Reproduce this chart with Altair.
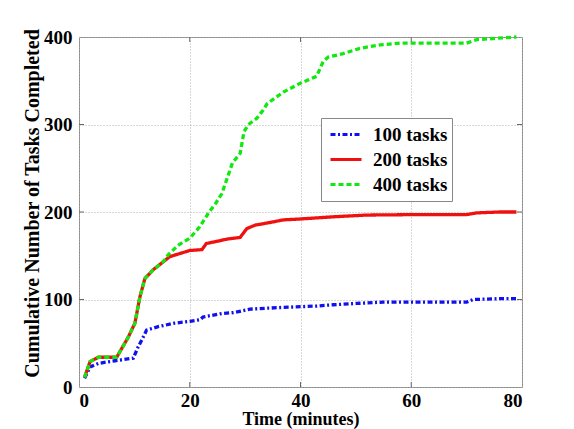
import altair as alt
import pandas as pd

series_names = ["100 tasks", "200 tasks", "400 tasks"]

t_100 = [1, 2, 3.5, 6.5, 9.8, 10.7, 11.6, 12.2, 14.3, 17.3, 20, 21.9, 22.4, 25.8, 27.9,
         30.9, 36.9, 42.9, 45.9, 50.1, 54.9, 70, 71.2, 76, 79]
v_100 = [10, 23, 27, 30, 33, 46, 57, 65, 69, 73, 75, 77, 80, 84, 85,
         89, 91, 92.5, 94, 95.5, 97, 97, 100, 101, 101]

t_200 = [1, 2, 3.5, 6.8, 8.9, 10.1, 11, 11.9, 13.4, 15.2, 16.4, 20, 22.2, 23, 25.3,
         26.7, 29.1, 30.3, 31.8, 34.5, 36.9, 39.9, 45.9, 51.9, 60.4, 70, 71.8, 76, 79]
v_200 = [11, 29, 34, 34, 57, 73, 103, 124, 134, 143, 149, 156, 157, 164, 167,
         169, 171, 181, 185, 188, 191, 192, 194.5, 196.5, 197, 197, 199, 200, 200]

t_400 = [1, 2, 3.5, 6.8, 8.9, 10.1, 11, 11.9, 13.4, 15.2, 16.1, 17.9, 20, 21.8, 23.5,
         24.7, 25.8, 27.7, 29.1, 29.8, 30.6, 32.1, 33.2, 34, 36.9, 39.9, 42.9, 44.1,
         45, 47.7, 50.7, 54.4, 58, 70, 71.8, 79]
v_400 = [11, 29, 34, 34, 57, 73, 103, 124, 134, 143, 151, 162, 170, 183, 200,
         210, 221, 256, 267, 292, 300, 307, 316, 324, 337, 347, 355, 372,
         377, 381, 387, 391, 393, 393, 397, 400]

x_ticks = [0, 20, 40, 60, 80]
y_ticks = [0, 100, 200, 300, 400]

rows = []
for name, ts, vs in [(series_names[0], t_100, v_100),
                     (series_names[1], t_200, v_200),
                     (series_names[2], t_400, v_400)]:
    for i, (t, v) in enumerate(zip(ts, vs)):
        rows.append({"series": name, "time": t, "count": v, "idx": i})
df = pd.DataFrame(rows)

xt_df = pd.DataFrame({"time": x_ticks[1:-1]})
yt_df = pd.DataFrame({"count": y_ticks[1:-1]})

FONT = "Liberation Serif"
W, H = 443, 350
X_TITLE = "Time (minutes)"
Y_TITLE = "Cumulative Number of Tasks Completed"

x_enc = alt.X("time:Q", title=X_TITLE,
              scale=alt.Scale(domain=[0, 80], nice=False),
              axis=alt.Axis(values=x_ticks, labelPadding=4, titlePadding=0,
                            titleFontSize=18))
y_enc = alt.Y("count:Q", title=Y_TITLE,
              scale=alt.Scale(domain=[0, 400], nice=False),
              axis=alt.Axis(values=y_ticks, labelPadding=7, titlePadding=1,
                            titleY=166, titleFontSize=20))

lines = alt.Chart(df).mark_line(strokeWidth=3.3).encode(
    x=x_enc,
    y=y_enc,
    color=alt.Color("series:N", title=None,
                    scale=alt.Scale(domain=series_names,
                                    range=["#1010f0", "#f01010", "#10e810"])),
    strokeDash=alt.StrokeDash("series:N", title=None,
                              scale=alt.Scale(domain=series_names,
                                              range=[[5, 2.5, 2, 2.5], [1, 0], [5, 3]])),
    order="idx:Q",
)

tick_style = dict(color="#666666", strokeWidth=1)
ticks_bottom = alt.Chart(xt_df).mark_rule(**tick_style).encode(
    x=alt.X("time:Q", title=X_TITLE), y=alt.value(H), y2=alt.value(H - 5))
ticks_top = alt.Chart(xt_df).mark_rule(**tick_style).encode(
    x=alt.X("time:Q", title=X_TITLE), y=alt.value(0), y2=alt.value(5))
ticks_left = alt.Chart(yt_df).mark_rule(**tick_style).encode(
    y=alt.Y("count:Q", title=Y_TITLE), x=alt.value(0), x2=alt.value(5))
ticks_right = alt.Chart(yt_df).mark_rule(**tick_style).encode(
    y=alt.Y("count:Q", title=Y_TITLE), x=alt.value(W), x2=alt.value(W - 5))

chart = alt.layer(
    ticks_bottom, ticks_top, ticks_left, ticks_right, lines
).properties(
    width=W, height=H,
    autosize=alt.AutoSizeParams(type="none"),
    padding={"left": 71, "top": 29, "right": 44, "bottom": 42},
).configure_view(
    stroke="#888888", strokeWidth=1
).configure_axis(
    domain=False, ticks=False, grid=True,
    gridColor="#b0b0b0", gridDash=[1, 2], gridWidth=1,
    labelFont=FONT, labelFontSize=19, labelFontWeight="bold", labelColor="black",
    titleFont=FONT, titleFontWeight="bold", titleColor="black",
).configure_legend(
    orient="none", legendX=242, legendY=81,
    strokeColor="#888888", fillColor="white", padding=4,
    symbolType="stroke", symbolSize=961, symbolStrokeWidth=3, symbolOffset=4,
    labelFont=FONT, labelFontSize=19, labelFontWeight="bold", labelColor="black",
    labelOffset=10, clipHeight=25, rowPadding=0,
)

chart.save("out.html", embed_options={"renderer": "svg", "actions": False})
